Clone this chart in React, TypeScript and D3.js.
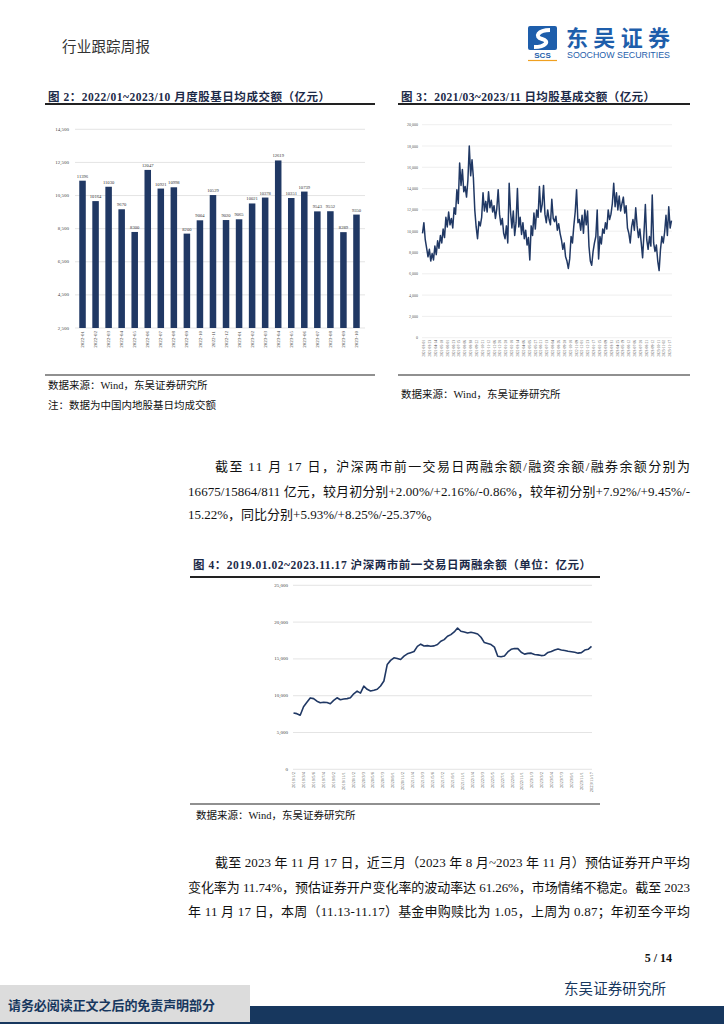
import React from 'react';
import * as d3 from 'd3';

// 图2 月度股基日均成交额（亿元）
const months = [
  '2022-01', '2022-02', '2022-03', '2022-04', '2022-05', '2022-06', '2022-07', '2022-08',
  '2022-09', '2022-10', '2022-11', '2022-12', '2023-01', '2023-02', '2023-03', '2023-04',
  '2023-05', '2023-06', '2023-07', '2023-08', '2023-09', '2023-10',
];
const monthlyTurnover = [
  11396, 10164, 11030, 9670, 8300, 12047, 10921, 10998, 8200, 9004, 10529,
  9020, 9065, 10021, 10378, 12619, 10351, 10739, 9543, 9552, 8289, 9350,
];
const barTicks = [2500, 4500, 6500, 8500, 10500, 12500, 14500];

// 图3 日均股基成交额（亿元）
const dailyTurnover = [
  9800, 10800, 9200, 8400, 7600, 8300, 7200, 7900, 7300, 8600, 7800, 9100, 8400,
  9600, 8900, 10200, 9400, 11300, 10400, 11800, 10600, 11200, 10300, 12200, 11600,
  13900, 12600, 16400, 14300, 15800, 13700, 14200, 13200, 14800, 18000, 15200, 16700,
  15000, 12000, 10400, 9300, 10900, 10500, 11300, 13600, 11900, 12800, 11800, 13700,
  12200, 12900, 11800, 12400, 11200, 12100, 13900, 11600, 10600, 11200, 9800, 9300,
  10500, 8900, 14500, 11800, 10300, 11900, 9600, 10800, 14000, 10400, 11300, 9700,
  10800, 9300, 10100, 8700, 9400, 7300, 10500, 9600, 11700, 10200, 12000, 11300,
  14200, 11800, 12500, 14300, 11600, 10800, 12000, 11100, 10600, 13000, 11200, 10900,
  11400, 10100, 10700, 9800, 9200, 8300, 8900, 7600, 7200, 6500, 7400, 9500, 8900,
  10500, 11800, 13900, 10800, 11100, 10100, 11500, 9800, 12000, 10600, 11900, 8600,
  7200, 6800, 8100, 8900, 9500, 12000, 7400, 9500, 8800, 10200, 9800, 10800, 10200,
  12000, 11100, 11600, 12600, 14500, 12300, 13600, 12000, 13300, 11900, 12600, 13200,
  11700, 12400, 10300, 9800, 8900, 10400, 11100, 10100, 12200, 10500, 9400, 10200,
  8900, 7500, 9800, 12500, 9200, 8300, 9500, 8600, 13400, 8900, 8100, 8700, 7200,
  6300, 8300, 9500, 8900, 9900, 11500, 9600, 12300, 10300, 11000,
];
const dailyDates = [
  '2021-03-01', '2021-03-23', '2021-04-14', '2021-05-10', '2021-06-01', '2021-06-23',
  '2021-07-15', '2021-08-06', '2021-08-30', '2021-09-22', '2021-10-21', '2021-11-12',
  '2021-12-06', '2021-12-28', '2022-01-20', '2022-02-18', '2022-03-14', '2022-04-06',
  '2022-05-05', '2022-05-27', '2022-06-21', '2022-07-13', '2022-08-04', '2022-08-26',
  '2022-09-20', '2022-10-18', '2022-11-09', '2022-12-01', '2022-12-23', '2023-01-17',
  '2023-02-15', '2023-03-09', '2023-03-31', '2023-04-25', '2023-05-19', '2023-06-12',
  '2023-07-06', '2023-07-28', '2023-08-21', '2023-09-12', '2023-10-11', '2023-11-02',
  '2023-11-17',
];
const dailyTicks = [0, 2000, 4000, 6000, 8000, 10000, 12000, 14000, 16000, 18000, 20000];

// 图4 沪深两市两融余额（亿元）
const marginBalance = [
  7650, 7560, 7350, 8500, 9100, 9700, 9600, 9250, 9050, 9100, 9080, 8900, 9360, 9720,
  9450, 9550, 9600, 9720, 10260, 10620, 10350, 11300, 10870, 10640, 10730, 10870, 11320,
  12000, 14250, 14800, 15150, 15060, 14920, 15370, 15690, 15850, 16000, 16700, 17000,
  16750, 16800, 16720, 16770, 16950, 17400, 17620, 18070, 18300, 18660, 19200, 18750,
  18660, 18520, 18610, 18520, 18380, 17940, 17220, 17100, 16950, 16600, 15370, 15300,
  15400, 15950, 16300, 16420, 16400, 15900, 15650, 15750, 15780, 15600, 15550, 15450,
  15500, 15880, 16000, 16200, 16350, 16220, 16150, 16040, 15980, 15900, 15780, 15850,
  16200, 16300, 16700,
];
const marginDates = [
  '2019/1/2', '2019/3/4', '2019/5/6', '2019/7/4', '2019/9/2', '2019/11/1', '2020/1/2',
  '2020/3/3', '2020/5/6', '2020/7/3', '2020/9/1', '2020/11/2', '2021/1/4', '2021/3/3',
  '2021/5/6', '2021/7/2', '2021/9/1', '2021/11/1', '2022/1/4', '2022/3/3', '2022/5/5',
  '2022/7/1', '2022/9/1', '2022/11/1', '2023/1/3', '2023/3/2', '2023/5/4', '2023/7/3',
  '2023/9/1', '2023/11/1', '2023/11/17',
];
const marginTicks = [0, 5000, 10000, 15000, 20000, 25000];

const NAVY = '#203864';
const GRID = '#d9d9d9';
const SERIF = "'Liberation Serif', 'Noto Sans CJK SC', serif";
const CJK = "'Noto Sans CJK SC', sans-serif";
const fmt = d3.format(',');

const BarChart = () => {
  const x = d3.scaleBand().domain(months).range([76, 363]).paddingInner(0.5).paddingOuter(0.25);
  const y = d3.scaleLinear().domain([2500, 14500]).range([328, 129.3]);
  return (
    <g>
      {barTicks.map(t => (
        <g key={t}>
          <line x1={75} x2={365} y1={y(t)} y2={y(t)} stroke={GRID} strokeWidth={0.7} />
          <text x={69} y={y(t)} fontSize={5} textAnchor="end" dominantBaseline="central"
            fontFamily={SERIF} fill="#444">{fmt(t)}</text>
        </g>
      ))}
      {months.map((m, i) => (
        <g key={m}>
          <rect x={x(m)} y={y(monthlyTurnover[i])} width={x.bandwidth()}
            height={y(2500) - y(monthlyTurnover[i])} fill={NAVY} />
          <text x={(x(m) || 0) + x.bandwidth() / 2} y={y(monthlyTurnover[i]) - 3}
            fontSize={4.6} textAnchor="middle" fontFamily={SERIF} fill="#333">{monthlyTurnover[i]}</text>
          <text transform={`translate(${(x(m) || 0) + x.bandwidth() / 2 + 1.6},331) rotate(-90)`}
            fontSize={5} textAnchor="end" fontFamily={SERIF} fill="#444">{m}</text>
        </g>
      ))}
    </g>
  );
};

const DailyChart = () => {
  const x = d3.scaleLinear().domain([0, dailyTurnover.length - 1]).range([422.5, 671.5]);
  const y = d3.scaleLinear().domain([0, 20000]).range([337.7, 124.7]);
  const line = d3.line<number>().x((_, i) => x(i)).y(d => y(d));
  const lx = d3.scalePoint().domain(dailyDates).range([424, 670]);
  return (
    <g>
      {dailyTicks.map(t => (
        <g key={t}>
          <line x1={422} x2={672} y1={y(t)} y2={y(t)} stroke="#e8e8e8" strokeWidth={0.7} />
          <text x={418} y={y(t)} fontSize={4} textAnchor="end" dominantBaseline="central"
            fontFamily={SERIF} fill="#555">{fmt(t)}</text>
        </g>
      ))}
      <path d={line(dailyTurnover) || ''} fill="none" stroke={NAVY} strokeWidth={1.5}
        strokeLinejoin="round" />
      {dailyDates.map(d => (
        <text key={d} transform={`translate(${(lx(d) || 0) + 1.3},340) rotate(-90)`}
          fontSize={3.6} textAnchor="end" fontFamily={SERIF} fill="#555">{d}</text>
      ))}
    </g>
  );
};

const MarginChart = () => {
  const x = d3.scaleLinear().domain([0, marginBalance.length - 1]).range([293.5, 591.5]);
  const y = d3.scaleLinear().domain([0, 25000]).range([769.3, 585.3]);
  const line = d3.line<number>().x((_, i) => x(i)).y(d => y(d));
  const lx = d3.scalePoint().domain(marginDates).range([293.5, 591.5]);
  return (
    <g>
      {marginTicks.map(t => (
        <g key={t}>
          <line x1={293} x2={592} y1={y(t)} y2={y(t)} stroke={GRID} strokeWidth={0.7} />
          <text x={288} y={y(t)} fontSize={5} textAnchor="end" dominantBaseline="central"
            fontFamily={SERIF} fill="#444">{fmt(t)}</text>
        </g>
      ))}
      <path d={line(marginBalance) || ''} fill="none" stroke={NAVY} strokeWidth={1.6}
        strokeLinejoin="round" />
      {marginDates.map(d => (
        <text key={d} transform={`translate(${(lx(d) || 0) + 1.5},772) rotate(-90)`}
          fontSize={4.5} textAnchor="end" fontFamily={SERIF} fill="#555">{d}</text>
      ))}
    </g>
  );
};

const Txt = ({ x, y, size = 13, len, bold, color = '#111', family = SERIF, children }: any) => (
  <text x={x} y={y} fontSize={size} fontFamily={family} fill={color}
    fontWeight={bold ? 'bold' : 'normal'} dominantBaseline="central"
    textLength={len} lengthAdjust={len ? 'spacing' : undefined}>{children}</text>
);

const App = () => (
  <div style={{ position: 'absolute', left: 0, top: 0 }}>
    <svg width={724} height={1024} style={{ display: 'block', background: '#fff' }}>
      {/* header */}
      <Txt x={62} y={45} size={14.5} color="#333" family={CJK} len={88}>行业跟踪周报</Txt>
      <rect x={528} y={26} width={29} height={24} rx={2} fill="#1e5eab" />
      <path d="M550,30 C538,30 534,37 542,39 C550,41 546,47 534,47" fill="none" stroke="#fff" strokeWidth={4} />
      <text x={542.5} y={57.5} fontSize={8} fontWeight="bold" textAnchor="middle"
        fontFamily="'Liberation Sans', sans-serif" fill="#1e5eab">SCS</text>
      <line x1={528} x2={557} y1={60.5} y2={60.5} stroke="#f0a020" strokeWidth={1.2} />
      <Txt x={566} y={36} size={22} bold color="#1e5eab" family={CJK} len={104}>东吴证券</Txt>
      <text x={567} y={55} fontSize={8.5} fontFamily="'Liberation Sans', sans-serif" fill="#1e5eab"
        dominantBaseline="central" textLength={103} lengthAdjust="spacingAndGlyphs">SOOCHOW SECURITIES</text>

      {/* figure 2 & 3 captions */}
      <Txt x={48} y={97} size={11.5} bold color="#1c2a48" len={282}>图 2：2022/01~2023/10 月度股基日均成交额（亿元）</Txt>
      <line x1={45} x2={375} y1={104} y2={104} stroke="#222" strokeWidth={1.8} />
      <Txt x={401} y={97} size={11.5} bold color="#1c2a48" len={254}>图 3：2021/03~2023/11 日均股基成交额（亿元）</Txt>
      <line x1={398} x2={690} y1={104} y2={104} stroke="#222" strokeWidth={1.8} />

      <BarChart />
      <DailyChart />

      <line x1={45} x2={375} y1={375} y2={375} stroke="#222" strokeWidth={1.2} />
      <line x1={398} x2={690} y1={375} y2={375} stroke="#222" strokeWidth={1.2} />
      <Txt x={48} y={385} size={10.5}>数据来源：Wind，东吴证券研究所</Txt>
      <Txt x={48} y={405} size={10.5}>注：数据为中国内地股基日均成交额</Txt>
      <Txt x={401} y={394} size={10.5}>数据来源：Wind，东吴证券研究所</Txt>

      {/* paragraph 1 */}
      <Txt x={215} y={466} len={475}>截至 11 月 17 日，沪深两市前一交易日两融余额/融资余额/融券余额分别为</Txt>
      <Txt x={188} y={491} len={502}>16675/15864/811 亿元，较月初分别+2.00%/+2.16%/-0.86%，较年初分别+7.92%/+9.45%/-</Txt>
      <Txt x={188} y={514}>15.22%，同比分别+5.93%/+8.25%/-25.37%。</Txt>

      {/* figure 4 */}
      <Txt x={193} y={565} size={11.5} bold color="#1c2a48" len={398}>图 4：2019.01.02~2023.11.17 沪深两市前一交易日两融余额（单位：亿元）</Txt>
      <line x1={190} x2={600} y1={577} y2={577} stroke="#222" strokeWidth={1.8} />
      <MarginChart />
      <line x1={190} x2={600} y1={804} y2={804} stroke="#222" strokeWidth={1.2} />
      <Txt x={196} y={815} size={10.5}>数据来源：Wind，东吴证券研究所</Txt>

      {/* paragraph 2 */}
      <Txt x={215} y={862} len={475}>截至 2023 年 11 月 17 日，近三月（2023 年 8 月~2023 年 11 月）预估证券开户平均</Txt>
      <Txt x={188} y={887} len={502}>变化率为 11.74%，预估证券开户变化率的波动率达 61.26%，市场情绪不稳定。截至 2023</Txt>
      <Txt x={188} y={911} len={502}>年 11 月 17 日，本周（11.13-11.17）基金申购赎比为 1.05，上周为 0.87；年初至今平均</Txt>

      {/* footer */}
      <text x={672} y={958} fontSize={12} fontWeight="bold" textAnchor="end" fontFamily={SERIF}
        fill="#111" dominantBaseline="central">5 / 14</text>
      <Txt x={564} y={987} size={14.5} color="#17375e" family={CJK} len={102}>东吴证券研究所</Txt>
      <rect x={0} y={1006} width={724} height={18} fill="#17375e" />
      <rect x={0} y={985} width={250} height={37} fill="#dcdcdc" />
      <Txt x={8} y={1004} size={13} bold color="#17375e" family={CJK} len={207}>请务必阅读正文之后的免责声明部分</Txt>
    </svg>
  </div>
);

export default App;
